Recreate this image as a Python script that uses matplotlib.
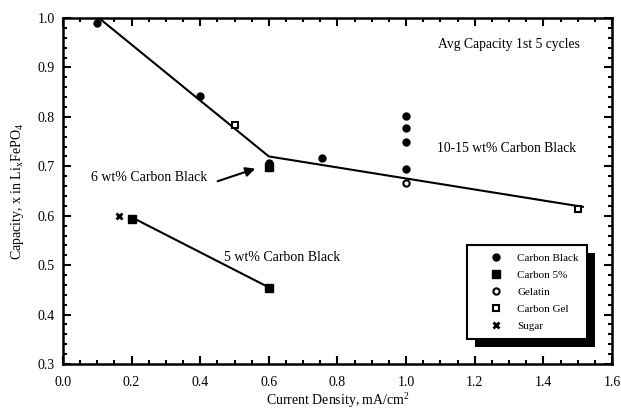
import matplotlib
matplotlib.use('Agg')
import matplotlib.pyplot as plt
from matplotlib.patches import Rectangle
from matplotlib.ticker import MultipleLocator, FormatStrFormatter

plt.rcParams['font.family'] = ['Liberation Serif', 'DejaVu Serif']
plt.rcParams['mathtext.fontset'] = 'custom'
plt.rcParams['mathtext.rm'] = 'Liberation Serif'
plt.rcParams['mathtext.it'] = 'Liberation Serif:italic'

# Data
cb_x = [0.1, 0.4, 0.6, 0.6, 0.755, 1.0, 1.0, 1.0, 1.0]
cb_y = [0.99, 0.842, 0.707, 0.703, 0.717, 0.801, 0.778, 0.749, 0.694]
c5_x = [0.2, 0.6, 0.6]
c5_y = [0.594, 0.454, 0.699]
gel_x = [1.0]
gel_y = [0.667]
cgel_x = [0.5, 1.5]
cgel_y = [0.783, 0.614]
sugar_x = [0.163]
sugar_y = [0.600]

# Trend lines
fit_hi_x = [0.105, 0.6, 1.515]
fit_hi_y = [1.0, 0.72, 0.618]
fit_lo_x = [0.2, 0.6]
fit_lo_y = [0.597, 0.455]

fig = plt.figure(figsize=(6.21, 4.11), dpi=100)
ax = fig.add_axes([0.1014, 0.1144, 0.8841, 0.8416])

ax.plot(fit_hi_x, fit_hi_y, color='black', lw=1.5, zorder=2)
ax.plot(fit_lo_x, fit_lo_y, color='black', lw=1.5, zorder=2)

ax.plot(cb_x, cb_y, 'o', color='black', ms=5, ls='none', label='Carbon Black', zorder=3)
ax.plot(c5_x, c5_y, 's', color='black', ms=5.5, ls='none', label='Carbon 5%', zorder=3)
ax.plot(gel_x, gel_y, 'o', mfc='white', mec='black', mew=1.5, ms=4.5, ls='none',
        label='Gelatin', zorder=3)
ax.plot(cgel_x, cgel_y, 's', mfc='white', mec='black', mew=1.5, ms=5, ls='none',
        label='Carbon Gel', zorder=3)
ax.plot(sugar_x, sugar_y, 'x', color='black', mew=2, ms=4.5, ls='none', label='Sugar', zorder=3)

# Axes and ticks
ax.set_xlim(0.0, 1.6)
ax.set_ylim(0.3, 1.0)
ax.xaxis.set_major_locator(MultipleLocator(0.2))
ax.xaxis.set_minor_locator(MultipleLocator(0.05))
ax.yaxis.set_major_locator(MultipleLocator(0.1))
ax.yaxis.set_minor_locator(MultipleLocator(0.02))
ax.xaxis.set_major_formatter(FormatStrFormatter('%.1f'))
ax.yaxis.set_major_formatter(FormatStrFormatter('%.1f'))
ax.tick_params(which='both', direction='in', top=True, right=True, width=1.5,
               labelsize=10, colors='black')
ax.tick_params(which='major', length=6)
ax.tick_params(axis='x', which='major', pad=9)
ax.tick_params(axis='y', which='major', pad=6)
ax.tick_params(which='minor', length=3)
for s in ax.spines.values():
    s.set_linewidth(1.8)

ax.set_xlabel('Current Density, mA/cm$^2$', fontsize=10, labelpad=1)
ax.set_ylabel('Capacity, x in Li$_\\mathregular{x}$FePO$_4$', fontsize=10, labelpad=8)

# Annotations
ax.text(1.093, 0.947, 'Avg Capacity 1st 5 cycles', fontsize=9.8, va='center', ha='left')
ax.text(1.09, 0.737, '10-15 wt% Carbon Black', fontsize=9.8, va='center', ha='left')
ax.text(0.082, 0.678, '6 wt% Carbon Black', fontsize=10, va='center', ha='left')
ax.text(0.469, 0.516, '5 wt% Carbon Black', fontsize=10, va='center', ha='left')
ax.annotate('', xy=(0.568, 0.697), xytext=(0.443, 0.668),
            arrowprops=dict(arrowstyle='-|>', color='black', lw=1.5, mutation_scale=14))

# Legend with a solid drop shadow
leg = ax.legend(loc='upper left', bbox_to_anchor=(0.736, 0.078, 0.218, 0.266), mode='expand',
                fontsize=8, frameon=True, fancybox=False, edgecolor='black',
                handletextpad=-0.03, labelspacing=0.66, borderpad=0.7, handlelength=3.85,
                numpoints=1, borderaxespad=0)
leg.get_frame().set_linewidth(1.5)
leg.get_frame().set_alpha(1)
leg.set_zorder(6)

fig.canvas.draw()
bb = leg.get_window_extent().transformed(ax.transAxes.inverted())
dx = 8 / (ax.bbox.width)
dy = 8 / (ax.bbox.height)
ax.add_patch(Rectangle((bb.x0 + dx, bb.y0 - dy), bb.width, bb.height,
                       transform=ax.transAxes, facecolor='black', edgecolor='none',
                       zorder=5.5, clip_on=False))

fig.savefig('out.png', dpi=100)
